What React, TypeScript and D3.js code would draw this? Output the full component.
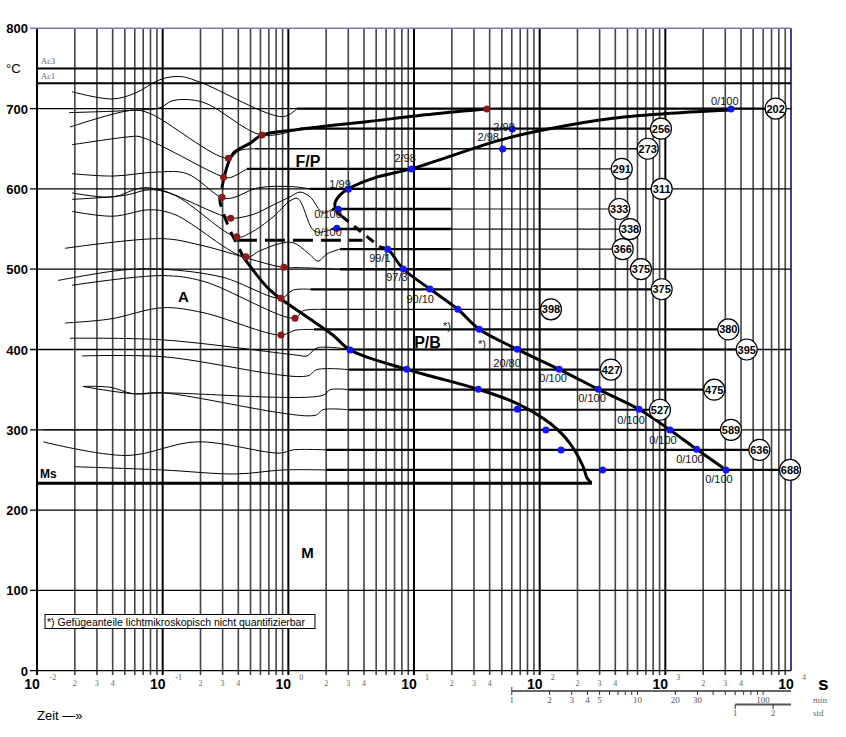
import * as d3 from "d3"

type Pt = [number, number]

// holding temperatures (°C) and hardness values (HV) at the end of each line
const holdTemps = [700, 675, 650, 625, 600, 575, 550, 525, 500, 475, 450, 425, 400, 375, 350, 325, 300, 275, 250]
const hardness = [202, 256, 273, 291, 311, 333, 338, 366, 375, 375, 398, 380, 395, 427, 475, 527, 589, 636, 688]
const holdEnd = [7550, 923, 724, 450, 935, 430, 523, 458, 640, 935, 123, 3170, 4440, 369, 2450, 906, 3330, 5600, 9820]

// thin cooling curves [time s, °C], one per holding temperature
const coolingCurves: Pt[][] = [
  [[0.019, 721], [0.0395, 712], [0.06, 719], [0.095, 736], [0.137, 740], [0.198, 733], [0.908, 690], [1.17, 700]],
  [[0.018, 695], [0.06, 698], [0.095, 701], [0.121, 710], [0.209, 708], [0.617, 667], [1.24, 675]],
  [[0.0183, 677], [0.058, 698], [0.079, 694], [0.331, 638], [0.412, 648], [0.543, 650]],
  [[0.019, 655], [0.055, 665], [0.066, 665], [0.302, 615], [0.343, 614], [0.469, 625]],
  [[0.019, 619], [0.0403, 616], [0.09, 621], [0.156, 619], [0.297, 589], [0.363, 589], [0.563, 601], [1.03, 603], [1.49, 600]],
  [[0.019, 595], [0.0403, 590], [0.066, 601], [0.0953, 599], [0.343, 564], [0.436, 565], [0.563, 570], [0.714, 578], [1.03, 590], [1.24, 596], [1.49, 590], [1.89, 570], [2.23, 575]],
  [[0.019, 587], [0.0501, 592], [0.0793, 599], [0.125, 592], [0.39, 540], [0.495, 545], [0.755, 565], [1.03, 585], [1.19, 588], [1.57, 549], [1.79, 546], [2.23, 550]],
  [[0.019, 572], [0.0403, 566], [0.0793, 574], [0.125, 568], [0.46, 515], [0.595, 523], [0.859, 532], [1.09, 533], [1.49, 518], [1.72, 510], [2.03, 519], [2.58, 525]],
  [[0.0167, 526], [0.1, 538], [0.2, 530], [0.923, 502], [1.17, 502], [2.58, 500]],
  [[0.0147, 486], [0.0483, 499], [0.1, 500], [0.3, 490], [0.875, 464], [1.09, 474], [1.5, 475]],
  [[0.019, 480], [0.1, 492], [0.21, 485], [1.13, 439], [1.3, 448], [1.8, 450]],
  [[0.0167, 433], [0.0381, 438], [0.1, 452], [0.209, 446], [0.875, 418], [1.13, 424], [1.6, 425]],
  [[0.0183, 414], [0.1, 412], [1.17, 393], [1.41, 392], [1.69, 402], [3.1, 400]],
  [[0.0228, 392], [0.1, 391], [1.41, 367], [1.69, 375], [3.0, 375]],
  [[0.0232, 354], [0.0381, 353], [0.058, 345], [0.1, 346], [1.89, 343], [2.15, 350], [3.0, 350]],
  [[0.0232, 354], [0.058, 345], [0.1, 346], [1.63, 318], [1.89, 325], [3.0, 325]],
  [[0.0112, 300], [2.0, 300]],
  [[0.0112, 285], [0.0518, 268], [0.187, 285], [0.859, 271], [1.09, 275], [2.0, 275]],
  [[0.0201, 254], [0.1, 250], [0.383, 245], [0.908, 250], [2.0, 250]],
]

// thick transformation lines
const ferriteStartTop: Pt[] = [[37.9, 699.5], [14.2, 693.3], [4.2, 683.7], [1.24, 674.2], [0.617, 667], [0.495, 656.8], [0.365, 644.3], [0.308, 614.4]]
const ferriteStartDashed: Pt[] = [[0.308, 614.4], [0.297, 602.7], [0.285, 586.2], [0.305, 569.6], [0.343, 548.8], [0.412, 523.9], [0.436, 515.6]]
const ferriteStartLow: Pt[] = [[0.436, 515.6], [0.672, 478.2], [0.859, 463.8], [1.4, 440.8], [2.26, 418.1], [3.1, 399.4], [8.75, 375.3], [14.2, 366.1], [32.5, 350.4], [65.6, 333], [121, 308.1], [174, 283.2], [222, 254], [238, 240], [258, 234]]
const pearliteEnd: Pt[] = [[3270, 698.3], [1310, 694.9], [383, 687.9], [114, 674.2], [48.3, 660.8], [9.82, 625.6], [4.72, 613.2], [2.98, 599.9], [2.58, 592.4], [2.35, 582.1], [2.43, 571.6], [2.66, 566.2]]
const pearliteEndDashed: Pt[] = [[2.66, 566.2], [3.72, 547.6], [5.36, 527.7]]
const bainiteLine: Pt[] = [[5.36, 527.7], [6.18, 524.8], [8.22, 500.2], [13.4, 475.3], [22.3, 450.1], [33.1, 425.2], [66.4, 400.2], [143, 375.3], [293, 350.4], [617, 325.5], [1090, 299.8], [1775, 275.7], [3040, 250]]
const dashedHorizontal: Pt[] = [[0.39, 536], [3.9, 536]]
const msTemp = 233.3
const msEnd = 261

const redDots: Pt[] = [[38, 699.5], [0.617, 667], [0.333, 638.1], [0.305, 614.4], [0.297, 589.5], [0.348, 563.4], [0.389, 540.5], [0.46, 515.6], [0.923, 502.4], [0.875, 463.8], [1.13, 438.9], [0.875, 418.1]]
const blueDots: Pt[] = [
  [3330, 699.5], [60.6, 674.6], [50.8, 649.7], [9.59, 624.9], [3.0, 599.5], [2.5, 574.6], [2.43, 550.9],
  [6.18, 524.8], [8.22, 500.2], [13.4, 475.3], [22.3, 450.1], [33.1, 425.2], [66.4, 400.2], [143, 375.3],
  [293, 350.4], [617, 325.5], [1090, 299.8], [1775, 275.7], [3040, 250],
  [3.1, 399.4], [8.75, 375.3], [32.5, 350.4], [66.4, 325.5], [112, 299.8], [148, 274.8], [317, 250],
]

const phaseLabels = ["0/100", "2/98", "2/98", "2/98", "1/99", "0/100", "0/100", "99/1", "97/3", "90/10", "*)", "*)", "20/80", "0/100", "0/100", "0/100", "0/100", "0/100", "0/100"]
const phaseLabelPos: Pt[] = [[2970, 709], [52, 677], [39, 665], [8.5, 638], [2.58, 606], [2.07, 568.6], [2.07, 546], [5.36, 514], [7.32, 490.3], [11.2, 463], [18.3, 429], [34.8, 406.8], [55, 383.2], [128, 364.5], [261, 339.6], [533, 312.2], [957, 287.3], [1570, 263.6], [2670, 238.7]]

const yTicks = [0, 100, 200, 300, 400, 500, 600, 700, 800]
const decades = [-2, -1, 0, 1, 2, 3, 4]
const minuteTicks = [1, 2, 3, 4, 5, 6, 7, 8, 9, 10, 20, 30, 40, 50, 60, 70, 80, 90, 100]
const minuteLabels = [1, 2, 3, 4, 5, 10, 20, 30, 100]
const hourTicks = [1, 2]

const W = 846
const H = 737
const x = d3.scaleLog().domain([0.01, 1e4]).range([37, 791])
const y = d3.scaleLinear().domain([0, 800]).range([670.7, 28.3])

const line = d3
  .line<Pt>()
  .x((d) => x(d[0]))
  .y((d) => y(d[1]))
  .curve(d3.curveCatmullRom.alpha(0.5))

const sans = "Arial, 'Liberation Sans', sans-serif"
const serif = "'Times New Roman', 'Liberation Serif', serif"

export default function App() {
  const verticals: { v: number; major: boolean }[] = []
  for (let d = -2; d < 4; d++) {
    for (let m = 1; m <= 9; m++) verticals.push({ v: m * Math.pow(10, d), major: m === 1 })
  }

  const thinAfter20 = new Set([625, 600, 575, 550, 525, 500])
  const thinAll = new Set([650, 450])
  const circleR = 10.5

  return (
    <div style={{ position: "absolute", left: 0, top: 0 }}>
      <svg width={W} height={H} style={{ display: "block", background: "#fff" }}>
        {/* vertical grid */}
        {verticals.map((g, i) => (
          <line
            key={"v" + i}
            x1={x(g.v)}
            x2={x(g.v)}
            y1={y(800)}
            y2={675}
            stroke={g.major ? "#000" : "#444"}
            strokeWidth={g.major ? 2 : 1.6}
          />
        ))}
        <line x1={x(1e4)} x2={x(1e4)} y1={y(800)} y2={y(0)} stroke="#00007a" strokeWidth={1.5} />

        {/* horizontal grid */}
        {yTicks.map((t) => (
          <line
            key={"h" + t}
            x1={30}
            x2={x(1e4)}
            y1={y(t)}
            y2={y(t)}
            stroke={t === 800 ? "#7878c0" : "#000"}
            strokeWidth={t === 800 ? 1.5 : 1.3}
          />
        ))}
        {yTicks.map((t) => (
          <text key={"yt" + t} x={28} y={y(t) + 5} textAnchor="end" fontFamily={sans} fontWeight="bold" fontSize={13}>
            {t}
          </text>
        ))}
        <text x={6} y={73} fontFamily={sans} fontSize={13}>
          °C
        </text>

        {/* Ac3 / Ac1 */}
        <line x1={x(0.01)} x2={x(1e4)} y1={y(750)} y2={y(750)} stroke="#000" strokeWidth={2} />
        <line x1={x(0.01)} x2={x(1e4)} y1={y(731.5)} y2={y(731.5)} stroke="#000" strokeWidth={2} />
        <text x={41} y={y(750) - 4} fontFamily={serif} fontSize={8.5} fill="#666">
          Ac3
        </text>
        <text x={41} y={y(731.5) - 4} fontFamily={serif} fontSize={8.5} fill="#666">
          Ac1
        </text>

        {/* x axis labels */}
        {decades.map((d) => (
          <g key={"dec" + d}>
            <text x={x(Math.pow(10, d)) - 5} y={689} textAnchor="middle" fontFamily={sans} fontWeight="bold" fontSize={14}>
              10
            </text>
            <text x={x(Math.pow(10, d)) + (d < 0 ? 16 : 13)} y={680} textAnchor="middle" fontFamily={serif} fontSize={8} fill="#666">
              {d}
            </text>
            {d < 4 &&
              [2, 3, 4].map((m) => (
                <text key={m} x={x(m * Math.pow(10, d))} y={686} textAnchor="middle" fontFamily={serif} fontSize={8} fill="#666">
                  {m}
                </text>
              ))}
          </g>
        ))}
        <text x={818} y={690} fontFamily={sans} fontWeight="bold" fontSize={19}>
          s
        </text>
        <text x={37} y={720} fontFamily={sans} fontSize={13}>
          Zeit  —»
        </text>

        {/* minute scale */}
        <line x1={x(60)} x2={x(1e4)} y1={691} y2={691} stroke="#333" strokeWidth={1.5} />
        {minuteTicks.map((m) => (
          <line key={"mt" + m} x1={x(m * 60)} x2={x(m * 60)} y1={m === 1 ? 687 : 691} y2={695} stroke="#333" strokeWidth={1} />
        ))}
        {minuteLabels.map((m) => (
          <text key={"ml" + m} x={x(m * 60)} y={703} textAnchor="middle" fontFamily={serif} fontSize={9} fill="#555">
            {m}
          </text>
        ))}
        <text x={813} y={703} fontFamily={serif} fontSize={9} fill="#666">
          min
        </text>
        {/* hour scale */}
        <line x1={x(3600)} x2={x(1e4)} y1={704.5} y2={704.5} stroke="#555" strokeWidth={2} />
        {hourTicks.map((h) => (
          <line key={"ht" + h} x1={x(h * 3600)} x2={x(h * 3600)} y1={704.5} y2={709} stroke="#333" strokeWidth={1} />
        ))}
        {hourTicks.map((h) => (
          <text key={"hl" + h} x={x(h * 3600)} y={716} textAnchor="middle" fontFamily={serif} fontSize={9} fill="#555">
            {h}
          </text>
        ))}
        <text x={813} y={716} fontFamily={serif} fontSize={9} fill="#666">
          std
        </text>

        {/* cooling curves */}
        {coolingCurves.map((c, i) => (
          <path key={"c" + i} d={line(c) ?? ""} fill="none" stroke="#000" strokeWidth={1} />
        ))}

        {/* holding lines */}
        {holdTemps.map((t, i) => {
          const c = coolingCurves[i]
          const t0 = c[c.length - 1][0]
          const xEnd = x(holdEnd[i]) - circleR
          const yy = y(t)
          if (thinAll.has(t)) {
            return <line key={"hl" + i} x1={x(t0)} x2={xEnd} y1={yy} y2={yy} stroke="#000" strokeWidth={1.3} />
          }
          if (thinAfter20.has(t)) {
            return (
              <g key={"hl" + i}>
                <line x1={x(t0)} x2={x(20)} y1={yy} y2={yy} stroke="#000" strokeWidth={2.4} />
                <line x1={x(20)} x2={xEnd} y1={yy} y2={yy} stroke="#111" strokeWidth={1.2} />
              </g>
            )
          }
          return <line key={"hl" + i} x1={x(t0)} x2={xEnd} y1={yy} y2={yy} stroke="#000" strokeWidth={2.2} />
        })}

        {/* Ms line */}
        <line x1={x(0.01)} x2={x(msEnd)} y1={y(msTemp)} y2={y(msTemp)} stroke="#000" strokeWidth={3} />

        {/* transformation lines */}
        <path d={line(ferriteStartTop) ?? ""} fill="none" stroke="#000" strokeWidth={3} />
        <path d={line(ferriteStartDashed) ?? ""} fill="none" stroke="#000" strokeWidth={3} strokeDasharray="11,8" />
        <path d={line(ferriteStartLow) ?? ""} fill="none" stroke="#000" strokeWidth={3} />
        <path d={line(pearliteEnd) ?? ""} fill="none" stroke="#000" strokeWidth={3} />
        <path d={line(pearliteEndDashed) ?? ""} fill="none" stroke="#000" strokeWidth={3} strokeDasharray="9,7" />
        <path d={line(bainiteLine) ?? ""} fill="none" stroke="#000" strokeWidth={3} />
        <path d={line(dashedHorizontal) ?? ""} fill="none" stroke="#000" strokeWidth={3} strokeDasharray="20,8" />

        {/* dots */}
        {redDots.map((d, i) => (
          <circle key={"r" + i} cx={x(d[0])} cy={y(d[1])} r={3.5} fill="#8b1a1a" />
        ))}
        {blueDots.map((d, i) => (
          <circle key={"b" + i} cx={x(d[0])} cy={y(d[1])} r={3.5} fill="#1414ff" />
        ))}

        {/* phase fraction labels */}
        {phaseLabels.map((s, i) => (
          <text key={"pl" + i} x={x(phaseLabelPos[i][0])} y={y(phaseLabelPos[i][1]) + 4} textAnchor="middle" fontFamily={sans} fontSize={11} fill="#111">
            {s}
          </text>
        ))}

        {/* hardness circles */}
        {hardness.map((h, i) => (
          <g key={"hc" + i} transform={`translate(${x(holdEnd[i])},${y(holdTemps[i])})`}>
            <circle r={circleR} fill="#fff" stroke="#000" strokeWidth={1.2} />
            <text y={4} textAnchor="middle" fontFamily={sans} fontWeight="bold" fontSize={11}>
              {h}
            </text>
          </g>
        ))}

        {/* phase regions */}
        <text x={308} y={167} textAnchor="middle" fontFamily={sans} fontWeight="bold" fontSize={16}>
          F/P
        </text>
        <text x={183.5} y={302} textAnchor="middle" fontFamily={sans} fontWeight="bold" fontSize={15}>
          A
        </text>
        <text x={427.5} y={348} textAnchor="middle" fontFamily={sans} fontWeight="bold" fontSize={16}>
          P/B
        </text>
        <text x={307.5} y={558} textAnchor="middle" fontFamily={sans} fontWeight="bold" fontSize={15}>
          M
        </text>
        <text x={40} y={478} fontFamily={sans} fontWeight="bold" fontSize={12}>
          Ms
        </text>

        {/* footnote */}
        <rect x={45} y={614.5} width={270} height={14} fill="#fff" stroke="#000" strokeWidth={1} />
        <text x={47} y={625.5} fontFamily={sans} fontSize={10.5}>
          *) Gefügeanteile lichtmikroskopisch nicht quantifizierbar
        </text>
      </svg>
    </div>
  )
}
